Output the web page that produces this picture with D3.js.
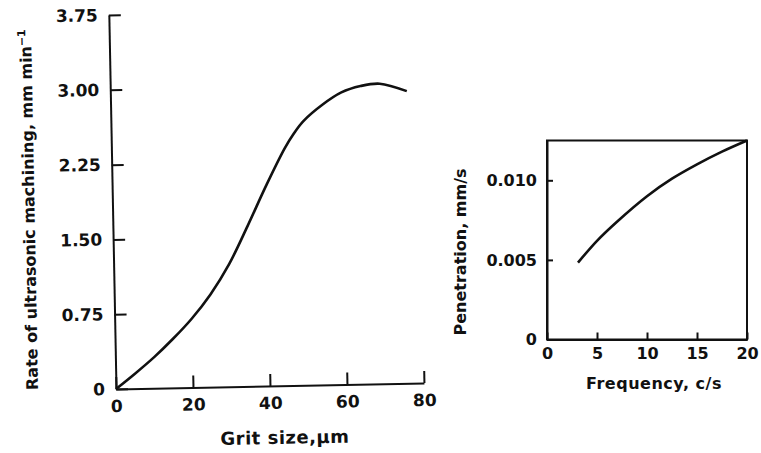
<!DOCTYPE html>
<html>
<head>
<meta charset="utf-8">
<script src="https://cdn.jsdelivr.net/npm/d3@7"></script>
<style>
  body { margin: 0; background: #fff; }
  text { font-family: "DejaVu Sans", sans-serif; font-weight: bold; fill: #111; }
</style>
</head>
<body>
<script>
// left chart: grit size vs machining rate
var gritSize = [0, 5, 10, 15, 20, 25, 30, 35, 40, 45, 47.5, 50, 55, 60, 65, 70, 77];
var machRate = [0, 0.15, 0.31, 0.49, 0.69, 0.93, 1.23, 1.61, 2.01, 2.38, 2.53, 2.65, 2.81, 2.93, 2.99, 3.01, 2.93];
var gritTicks = [0, 20, 40, 60, 80];
var rateTicks = [0, 0.75, 1.50, 2.25, 3.00, 3.75];
var rateTickLabels = ["0", "0.75", "1.50", "2.25", "3.00", "3.75"];

// right chart: frequency vs penetration
var freq = [3.1, 5, 7, 10, 12.5, 15, 17.5, 20];
var penetration = [0.00483, 0.0062, 0.0074, 0.0090, 0.0101, 0.0110, 0.0118, 0.0125];
var freqTicks = [0, 5, 10, 15, 20];
var penTicks = [0, 0.005, 0.010];
var penTickLabels = ["0", "0.005", "0.010"];

var width = 761;
var height = 453;

var svg = d3.select('body')
    .append('svg')
    .attr('width', width)
    .attr('height', height);

// ---- left chart (scan is slightly tilted) ----
var left = svg.append('g')
    .attr('transform', 'rotate(-1.1, 116, 389)');

var x1 = d3.scaleLinear().domain([0, 80]).range([116, 424]);
var y1 = d3.scaleLinear().domain([0, 3.75]).range([389, 15]);

left.append('g')
    .attr('transform', 'translate(0,' + y1(0) + ')')
    .call(d3.axisBottom(x1).tickValues(gritTicks).tickSize(-12).tickSizeOuter(0).tickPadding(11))
    .call(styleAxis, 17);

left.append('g')
    .attr('transform', 'translate(' + x1(0) + ',0)')
    .call(d3.axisLeft(y1).tickValues(rateTicks).tickSize(-12).tickSizeOuter(0).tickPadding(11)
        .tickFormat(function (d, i) { return rateTickLabels[i]; }))
    .call(styleAxis, 17);

left.append('path')
    .datum(gritSize.map(function (d, i) { return [d, machRate[i]]; }))
    .attr('fill', 'none')
    .attr('stroke', '#111')
    .attr('stroke-width', 2.6)
    .attr('d', d3.line()
        .x(function (d) { return x1(d[0]); })
        .y(function (d) { return y1(d[1]); })
        .curve(d3.curveCatmullRom.alpha(0.5)));

var yt = left.append('text')
    .attr('transform', 'translate(38,208) rotate(-90)')
    .attr('text-anchor', 'middle')
    .attr('font-size', '16px');
yt.append('tspan').text('Rate of ultrasonic machining, mm min');
yt.append('tspan').attr('baseline-shift', 'super').attr('font-size', '11px').text('\u22121');

left.append('text')
    .attr('x', 284)
    .attr('y', 447)
    .attr('text-anchor', 'middle')
    .attr('font-size', '18px')
    .attr('letter-spacing', '0.5px')
    .text('Grit size,\u03bcm');

// ---- right chart ----
var right = svg.append('g');

var x2 = d3.scaleLinear().domain([0, 20]).range([547, 747]);
var y2 = d3.scaleLinear().domain([0, 0.0125]).range([339.5, 140.5]);

right.append('rect')
    .attr('x', x2(0))
    .attr('y', y2(0.0125))
    .attr('width', x2(20) - x2(0))
    .attr('height', y2(0) - y2(0.0125))
    .attr('fill', 'none')
    .attr('stroke', '#111')
    .attr('stroke-width', 2);

right.append('g')
    .attr('transform', 'translate(0,' + y2(0) + ')')
    .call(d3.axisBottom(x2).tickValues(freqTicks).tickSize(-7).tickSizeOuter(0).tickPadding(8))
    .call(styleAxis, 16);

right.append('g')
    .attr('transform', 'translate(' + x2(0) + ',0)')
    .call(d3.axisLeft(y2).tickValues(penTicks).tickSize(-6).tickSizeOuter(0).tickPadding(10)
        .tickFormat(function (d, i) { return penTickLabels[i]; }))
    .call(styleAxis, 16);

right.append('path')
    .datum(freq.map(function (d, i) { return [d, penetration[i]]; }))
    .attr('fill', 'none')
    .attr('stroke', '#111')
    .attr('stroke-width', 2.6)
    .attr('d', d3.line()
        .x(function (d) { return x2(d[0]); })
        .y(function (d) { return y2(d[1]); })
        .curve(d3.curveCatmullRom.alpha(0.5)));

right.append('text')
    .attr('transform', 'translate(466,252) rotate(-90)')
    .attr('text-anchor', 'middle')
    .attr('font-size', '16px')
    .text('Penetration, mm/s');

right.append('text')
    .attr('x', 654)
    .attr('y', 389)
    .attr('text-anchor', 'middle')
    .attr('font-size', '16px')
    .attr('letter-spacing', '0.5px')
    .text('Frequency, c/s');

function styleAxis(g, size) {
    g.select('.domain').attr('stroke', '#111').attr('stroke-width', 2);
    g.selectAll('.tick line').attr('stroke', '#111').attr('stroke-width', 2);
    g.selectAll('.tick text')
        .attr('font-family', '"DejaVu Sans", sans-serif')
        .attr('font-weight', 'bold')
        .attr('font-size', size + 'px')
        .attr('fill', '#111');
}
</script>
</body>
</html>
